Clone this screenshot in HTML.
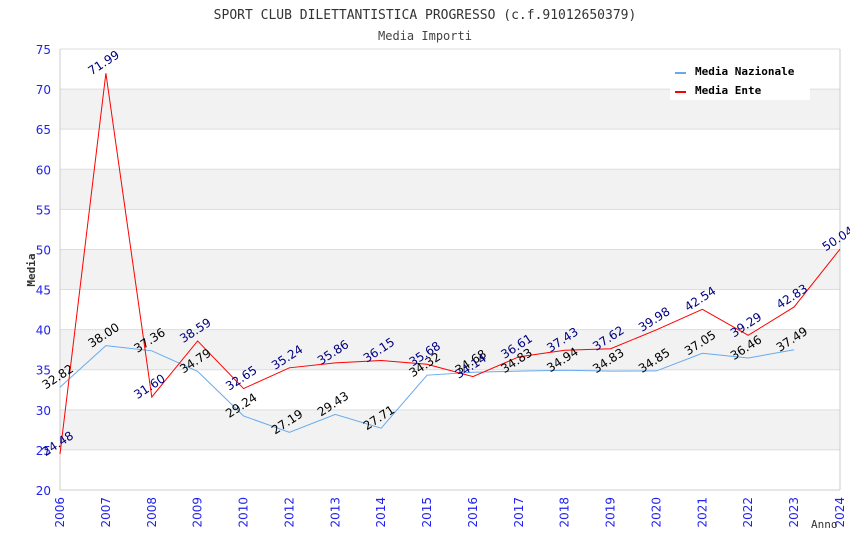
<!DOCTYPE html>
<html><head><meta charset="utf-8"><style>
body{margin:0;background:#fff}
svg{display:block}
text{font-family:"DejaVu Sans","Liberation Sans",sans-serif}
.mono{font-family:"DejaVu Sans Mono","Liberation Mono",monospace}
</style></head><body>
<svg id="chart" width="850" height="550">
<text class="mono" x="425" y="19" text-anchor="middle" font-size="13" fill="#333">SPORT CLUB DILETTANTISTICA PROGRESSO (c.f.91012650379)</text>
<text class="mono" x="425" y="40" text-anchor="middle" font-size="12" fill="#444">Media Importi</text>
<g id="bands"></g><g id="grid"></g>
<g id="axes"></g>
<g id="series"></g>
<g id="labels"></g>
<text class="mono" x="35" y="270" transform="rotate(-90 35 270)" text-anchor="middle" font-size="11" font-weight="bold" fill="#333">Media</text>
<text class="mono" x="811" y="528" font-size="11" fill="#333">Anno</text>
<g>
<rect x="670" y="60" width="140" height="40" fill="#fff"/>
<line x1="675" y1="73" x2="686" y2="73" stroke="#66aaee" stroke-width="2"/>
<text class="mono" x="695" y="75" font-size="11" font-weight="bold" fill="#000">Media Nazionale</text>
<line x1="675" y1="92" x2="686" y2="92" stroke="#ff0000" stroke-width="2"/>
<text class="mono" x="695" y="94" font-size="11" font-weight="bold" fill="#000">Media Ente</text>
</g>
</svg>
<script>
const years=["2006","2007","2008","2009","2010","2012","2013","2014","2015","2016","2017","2018","2019","2020","2021","2022","2023","2024"];
const nazionale=[32.82,38.00,37.36,34.79,29.24,27.19,29.43,27.71,34.32,34.68,34.83,34.94,34.83,34.85,37.05,36.46,37.49,null];
const ente=[24.48,71.99,31.60,38.59,32.65,35.24,35.86,36.15,35.68,34.14,36.61,37.43,37.62,39.98,42.54,39.29,42.83,50.04];
const yTicks=[20,25,30,35,40,45,50,55,60,65,70,75];
const NS="http://www.w3.org/2000/svg";
const L=60,R=840,T=49,B=490,ymin=20,ymax=75;
const x=i=>L+i*(R-L)/(years.length-1);
const y=v=>B-(v-ymin)/(ymax-ymin)*(B-T);
function mk(tag,attrs,parent){const e=document.createElementNS(NS,tag);for(const k in attrs)e.setAttribute(k,attrs[k]);document.getElementById(parent).appendChild(e);return e;}
for(let i=0;i<yTicks.length-1;i++){
 if(i%2===1){const r=mk('rect',{x:L,y:y(yTicks[i+1]),width:R-L,height:y(yTicks[i])-y(yTicks[i+1]),fill:'#f2f2f2'},'bands');
 
 }
}
yTicks.forEach(t=>{
 const g=mk('line',{x1:L,x2:R,y1:y(t),y2:y(t),stroke:'#ddd'},'grid');
 
 
 const tx=mk('text',{x:51,y:y(t)+5,'text-anchor':'end','font-size':12,fill:'#2222ee'},'axes');
 tx.textContent=t;
 
 
});
mk('line',{x1:L,x2:L,y1:T,y2:B,stroke:'#ccc'},'axes');
mk('line',{x1:R,x2:R,y1:T,y2:B,stroke:'#ccc'},'axes');
mk('line',{x1:L,x2:R,y1:B,y2:B,stroke:'#ccc'},'axes');
years.forEach((yr,i)=>{
 const t=mk('text',{x:x(i)+4,y:497,'text-anchor':'end','font-size':12,fill:'#2222ee',transform:`rotate(-90 ${x(i)+4} 497)`},'axes');
 t.textContent=yr;
 
 
});
function series(data,color,lblColor,name){
 const pts=[];data.forEach((v,i)=>{if(v!==null)pts.push(x(i)+','+y(v));});
 const p=mk('polyline',{points:pts.join(' '),fill:'none',stroke:color,'stroke-width':1},'series');
 
 
 data.forEach((v,i)=>{if(v===null)return;
  const cx=x(i),cy=y(v)-7;
  const t=mk('text',{x:cx,y:cy,'text-anchor':'middle','font-size':12,fill:lblColor,transform:`rotate(-33 ${cx} ${cy})`},'labels');
  t.textContent=v.toFixed(2);
  
  
 });
}
series(nazionale,'#66aaee','#000','nazionale');
series(ente,'#ff0000','#000080','ente');
</script>
</body></html>
